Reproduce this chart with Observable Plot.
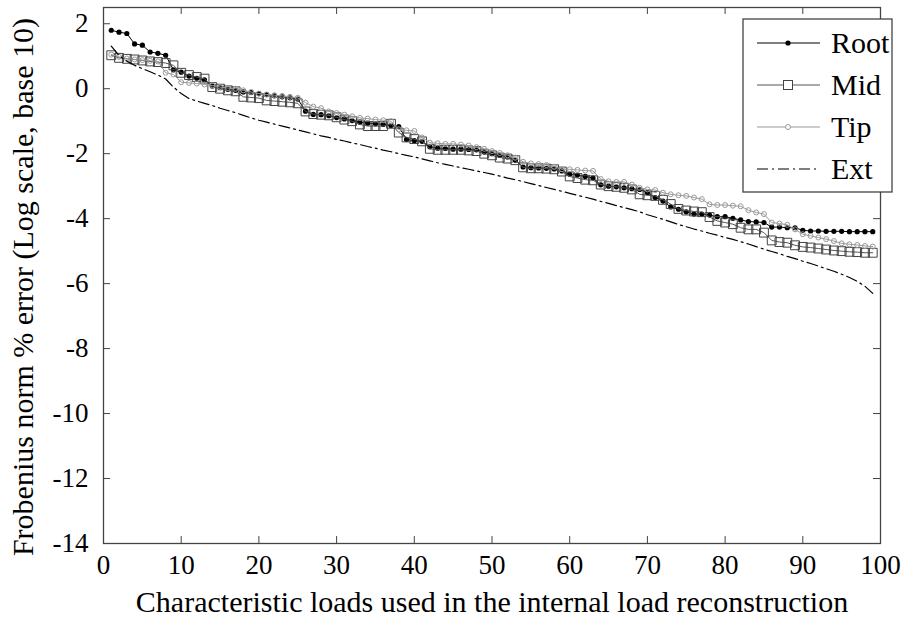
<!DOCTYPE html>
<html><head><meta charset="utf-8">
<script src="https://cdn.jsdelivr.net/npm/d3@7"></script>
<script src="https://cdn.jsdelivr.net/npm/@observablehq/plot@0.6"></script>
<style>body{margin:0;background:#fff}#chart{width:906px;height:620px}
#chart svg, #chart svg text{font-family:"Liberation Serif","DejaVu Serif",serif !important}</style>
</head><body><div id="chart"></div>
<script>
// Characteristic loads: 1..99
const rootErr = [1.80,1.74,1.70,1.38,1.34,1.13,1.09,1.03,0.58,0.51,
0.39,0.32,0.27,0.08,0.03,-0.02,-0.05,-0.10,-0.12,-0.15,
-0.18,-0.22,-0.25,-0.28,-0.32,-0.69,-0.79,-0.80,-0.83,-0.89,
-0.93,-0.98,-1.03,-1.06,-1.08,-1.10,-1.13,-1.17,-1.56,-1.60,
-1.62,-1.79,-1.83,-1.84,-1.86,-1.86,-1.87,-1.88,-1.95,-2.00,
-2.05,-2.10,-2.20,-2.41,-2.43,-2.44,-2.45,-2.47,-2.53,-2.63,
-2.66,-2.70,-2.75,-2.96,-3.00,-3.02,-3.05,-3.08,-3.10,-3.20,
-3.35,-3.46,-3.64,-3.71,-3.79,-3.86,-3.86,-3.89,-3.94,-3.94,
-3.99,-4.04,-4.09,-4.10,-4.12,-4.26,-4.26,-4.28,-4.28,-4.36,
-4.38,-4.38,-4.39,-4.39,-4.39,-4.40,-4.40,-4.40,-4.40];
const midErr = [1.03,0.95,0.92,0.90,0.87,0.84,0.82,0.79,0.72,0.49,
0.42,0.36,0.31,0.05,0.00,-0.05,-0.08,-0.25,-0.27,-0.29,
-0.36,-0.38,-0.40,-0.42,-0.45,-0.70,-0.78,-0.80,-0.82,-0.88,
-0.95,-1.00,-1.10,-1.15,-1.15,-1.15,-1.08,-1.35,-1.50,-1.55,
-1.62,-1.85,-1.88,-1.88,-1.88,-1.88,-1.90,-1.92,-2.00,-2.05,
-2.12,-2.15,-2.20,-2.42,-2.45,-2.45,-2.46,-2.48,-2.55,-2.70,
-2.75,-2.80,-2.82,-2.95,-3.00,-3.02,-3.05,-3.10,-3.25,-3.28,
-3.30,-3.42,-3.55,-3.70,-3.75,-3.78,-3.80,-3.95,-4.07,-4.12,
-4.17,-4.28,-4.33,-4.33,-4.43,-4.67,-4.72,-4.74,-4.82,-4.87,
-4.89,-4.92,-4.95,-4.98,-5.00,-5.02,-5.03,-5.05,-5.05];
const tipErr = [1.05,0.98,0.93,0.90,0.88,0.86,0.84,0.49,0.44,0.20,
0.18,0.16,0.13,0.10,0.05,0.02,0.00,-0.05,-0.10,-0.15,
-0.18,-0.20,-0.22,-0.25,-0.28,-0.43,-0.55,-0.60,-0.70,-0.75,
-0.80,-0.85,-0.90,-0.92,-0.95,-0.97,-1.00,-1.25,-1.28,-1.30,
-1.50,-1.66,-1.68,-1.70,-1.70,-1.72,-1.75,-1.80,-1.85,-1.92,
-1.98,-2.05,-2.12,-2.25,-2.30,-2.32,-2.35,-2.40,-2.48,-2.48,
-2.50,-2.52,-2.53,-2.78,-2.85,-2.87,-2.87,-2.95,-3.05,-3.10,
-3.12,-3.20,-3.25,-3.28,-3.30,-3.35,-3.40,-3.56,-3.58,-3.58,
-3.60,-3.62,-3.74,-3.81,-3.86,-4.12,-4.15,-4.19,-4.33,-4.48,
-4.53,-4.58,-4.63,-4.69,-4.76,-4.79,-4.81,-4.84,-4.86];
const extErr = [1.31,1.02,0.85,0.72,0.62,0.52,0.42,0.30,0.05,-0.15,
-0.30,-0.38,-0.45,-0.52,-0.60,-0.67,-0.74,-0.82,-0.90,-0.97,
-1.03,-1.09,-1.15,-1.21,-1.27,-1.33,-1.39,-1.45,-1.50,-1.56,
-1.61,-1.67,-1.72,-1.78,-1.83,-1.89,-1.94,-2.00,-2.05,-2.10,
-2.16,-2.22,-2.28,-2.33,-2.38,-2.43,-2.48,-2.53,-2.58,-2.63,
-2.69,-2.75,-2.80,-2.86,-2.92,-2.98,-3.04,-3.10,-3.16,-3.22,
-3.28,-3.34,-3.40,-3.47,-3.53,-3.60,-3.66,-3.72,-3.79,-3.88,
-3.95,-4.02,-4.10,-4.18,-4.25,-4.32,-4.38,-4.45,-4.51,-4.58,
-4.64,-4.71,-4.78,-4.86,-4.94,-5.01,-5.08,-5.16,-5.23,-5.31,
-5.38,-5.46,-5.54,-5.62,-5.71,-5.81,-5.93,-6.08,-6.30];

const xTicks = [0,10,20,30,40,50,60,70,80,90,100];
const yTicks = [2,0,-2,-4,-6,-8,-10,-12,-14];
const seriesNames = ["Root","Mid","Tip","Ext"];
const xTitle = "Characteristic loads used in the internal load reconstruction";
const yTitle = "Frobenius norm % error (Log scale, base 10)";

const rows = arr => arr.map((v, i) => ({x: i + 1, y: v}));
const FONT = '"Liberation Serif","DejaVu Serif",serif';
const X0 = 0, X1 = 100, Y0 = -14, Y1 = 2.5;
const tx = 0.9, ty = 0.215;
const innerY = yTicks.filter(v => v > Y0 && v < Y1);
const innerX = xTicks.filter(v => v > X0 && v < X1);

const svg = Plot.plot({
  width: 906, height: 620,
  marginLeft: 103, marginRight: 26, marginTop: 7, marginBottom: 77,
  style: {fontFamily: FONT, fontSize: "27px", background: "#fff", color: "#000"},
  x: {domain: [X0, X1], ticks: xTicks, tickSize: 0, tickPadding: 11, label: null, tickFormat: d => String(d)},
  y: {domain: [Y0, Y1], ticks: yTicks, tickSize: 0, tickPadding: 15, label: null, tickFormat: d => String(d)},
  marks: [
    Plot.line(rows(rootErr), {x: "x", y: "y", stroke: "#000", strokeWidth: 1}),
    Plot.dot(rows(rootErr), {x: "x", y: "y", fill: "#000", r: 2.6}),
    Plot.line(rows(midErr), {x: "x", y: "y", stroke: "#555", strokeWidth: 1}),
    Plot.dot(rows(midErr), {x: "x", y: "y", symbol: "square", stroke: "#444", fill: "none", r: 5, strokeWidth: 1}),
    Plot.line(rows(tipErr), {x: "x", y: "y", stroke: "#999", strokeWidth: 1}),
    Plot.dot(rows(tipErr), {x: "x", y: "y", stroke: "#999", fill: "none", r: 2.5, strokeWidth: 1}),
    Plot.line(rows(extErr), {x: "x", y: "y", stroke: "#000", strokeWidth: 1.2, strokeDasharray: "11,4,2,4"}),
    Plot.ruleY(innerY, {y: d => d, x1: X0, x2: X0 + tx, stroke: "#444"}),
    Plot.ruleY(innerY, {y: d => d, x1: X1 - tx, x2: X1, stroke: "#444"}),
    Plot.ruleX(innerX, {x: d => d, y1: Y0, y2: Y0 + ty, stroke: "#444"}),
    Plot.ruleX(innerX, {x: d => d, y1: Y1 - ty, y2: Y1, stroke: "#444"}),
    Plot.frame({stroke: "#444", strokeWidth: 1.3})
  ]
});
document.getElementById("chart").appendChild(svg);

const s = d3.select(svg);
s.append("text").attr("x", 492).attr("y", 612).attr("text-anchor", "middle")
  .attr("font-family", FONT).attr("font-size", 30).attr("fill", "#000").text(xTitle);
s.append("text").attr("transform", "translate(33,287) rotate(-90)").attr("text-anchor", "middle")
  .attr("font-family", FONT).attr("font-size", 30).attr("fill", "#000").text(yTitle);

// legend
const lg = s.append("g");
lg.append("rect").attr("x", 743).attr("y", 19).attr("width", 149).attr("height", 173)
  .attr("fill", "#fff").attr("stroke", "#444").attr("stroke-width", 1.3);
const styles = [
  {stroke: "#000", dash: null},
  {stroke: "#555", dash: null},
  {stroke: "#999", dash: null},
  {stroke: "#000", dash: "11,4,2,4"}
];
seriesNames.forEach((name, i) => {
  const cy = 43 + i * 42;
  const st = styles[i];
  const ln = lg.append("line").attr("x1", 757).attr("x2", 820).attr("y1", cy).attr("y2", cy)
    .attr("stroke", st.stroke).attr("stroke-width", i === 3 ? 1.2 : 1);
  if (st.dash) ln.attr("stroke-dasharray", st.dash);
  if (i === 0) lg.append("circle").attr("cx", 788).attr("cy", cy).attr("r", 2.6).attr("fill", "#000");
  if (i === 1) lg.append("rect").attr("x", 783.5).attr("y", cy - 4.5).attr("width", 9).attr("height", 9)
    .attr("fill", "#fff").attr("stroke", "#444");
  if (i === 2) lg.append("circle").attr("cx", 788).attr("cy", cy).attr("r", 2.5).attr("fill", "#fff").attr("stroke", "#999");
  lg.append("text").attr("x", 831).attr("y", cy + 10).attr("text-anchor", "start")
    .attr("font-family", FONT).attr("font-size", 30).attr("fill", "#000").text(name);
});
</script></body></html>
